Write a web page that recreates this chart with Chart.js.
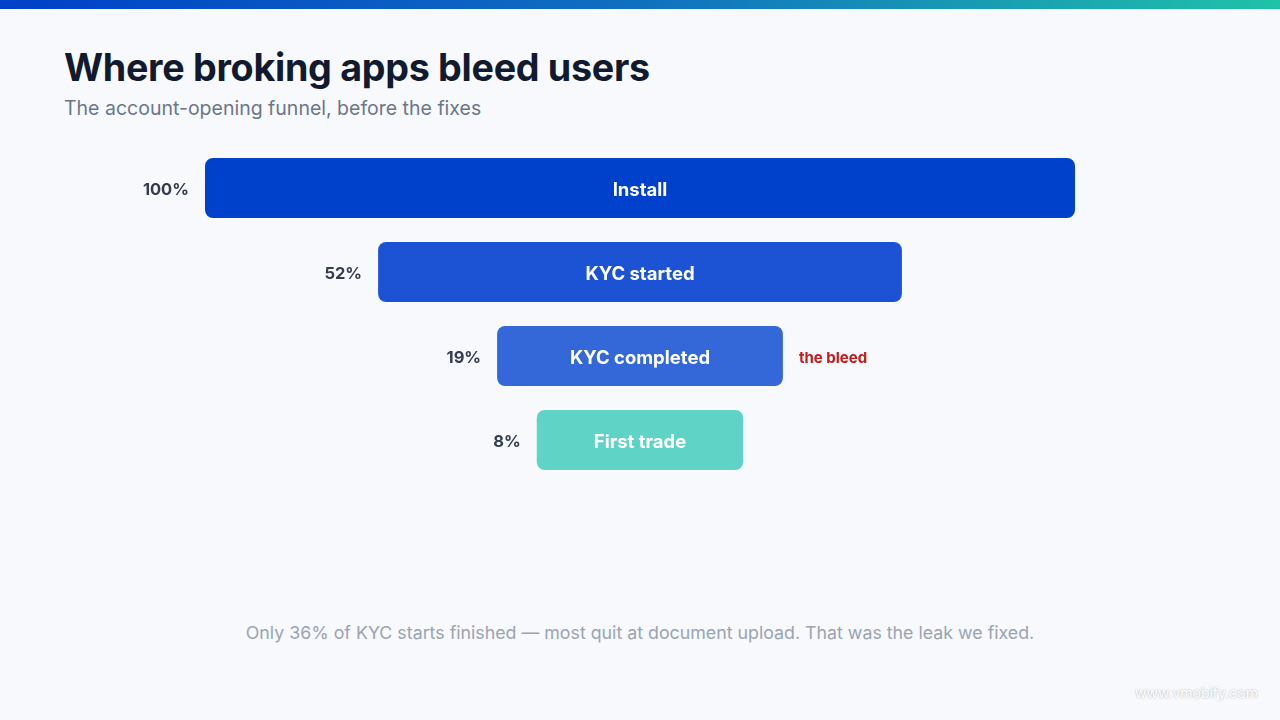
<!DOCTYPE html>
<html><head><meta charset="utf-8">
<script src="https://cdn.jsdelivr.net/npm/chart.js@4"></script>
<style>
html,body{margin:0;width:1280px;height:720px;background:#f7f9fc;font-family:Inter,"Noto Sans",sans-serif;overflow:hidden;position:relative}
#bar{position:absolute;left:0;top:0;width:1280px;height:9px;background:linear-gradient(90deg,#0040c8,#1070c0 50%,#20c2a8)}
h1{position:absolute;left:64px;top:44px;margin:0;font-size:37.7px;font-weight:700;color:#111a2e;letter-spacing:-0.3px}
#sub{position:absolute;left:64px;top:96px;font-size:19.5px;color:#6b7689}
#note{position:absolute;left:0;width:1280px;top:622px;text-align:center;font-size:17.8px;color:#9aa3b2}
#wm{position:absolute;right:22px;top:684px;font-size:14px;color:#fff;text-shadow:0 0 2px rgba(0,0,0,.35)}
#wrap{position:absolute;left:0;top:146px;width:1280px;height:336px}
</style></head><body>
<div id="bar"></div>
<h1>Where broking apps bleed users</h1>
<div id="sub">The account-opening funnel, before the fixes</div>
<div id="wrap"><canvas id="c"></canvas></div>
<div id="note">Only 36% of KYC starts finished — most quit at document upload. That was the leak we fixed.</div>
<div id="wm">www.vmobify.com</div>
<script>
const stages=["Install","KYC started","KYC completed","First trade"];
const values=[100,52,19,8];
const colors=["#0041cc","#1b53d4","#3468d8","#5fd4c6"];
const notes=["","","the bleed",""];
// displayed funnel width: minimum width plus proportional part (matches reference)
const width=v=>17.1+0.829*v;
const data=values.map(v=>[-width(v)/2,width(v)/2]);
const F='Inter, "Noto Sans", sans-serif';
const labels={id:'lbl',afterDatasetsDraw(ch){const ctx=ch.ctx;const m=ch.getDatasetMeta(0);
m.data.forEach((b,i)=>{const l=Math.min(b.x,b.base),r=Math.max(b.x,b.base);
ctx.save();ctx.textBaseline='middle';
ctx.font='700 18.5px '+F;ctx.fillStyle='#fff';ctx.textAlign='center';ctx.fillText(stages[i],(l+r)/2,b.y+2);
ctx.font='700 16.5px '+F;ctx.fillStyle='#333d4f';ctx.textAlign='right';ctx.fillText(values[i]+'%',l-16,b.y+2);
if(notes[i]){ctx.font='700 15px '+F;ctx.fillStyle='#c21d1d';ctx.textAlign='left';ctx.fillText(notes[i],r+16,b.y+2);}
ctx.restore();});}};
new Chart(document.getElementById('c'),{type:'bar',
data:{labels:stages,datasets:[{data,backgroundColor:colors,borderRadius:8,borderSkipped:false,barPercentage:0.714,categoryPercentage:1}]},
options:{indexAxis:'y',responsive:true,maintainAspectRatio:false,animation:false,
layout:{padding:{left:205,right:205,top:0,bottom:0}},
plugins:{legend:{display:false},tooltip:{enabled:false}},
scales:{x:{display:false,min:-50,max:50},y:{display:false}}},
plugins:[labels]});
</script></body></html>
